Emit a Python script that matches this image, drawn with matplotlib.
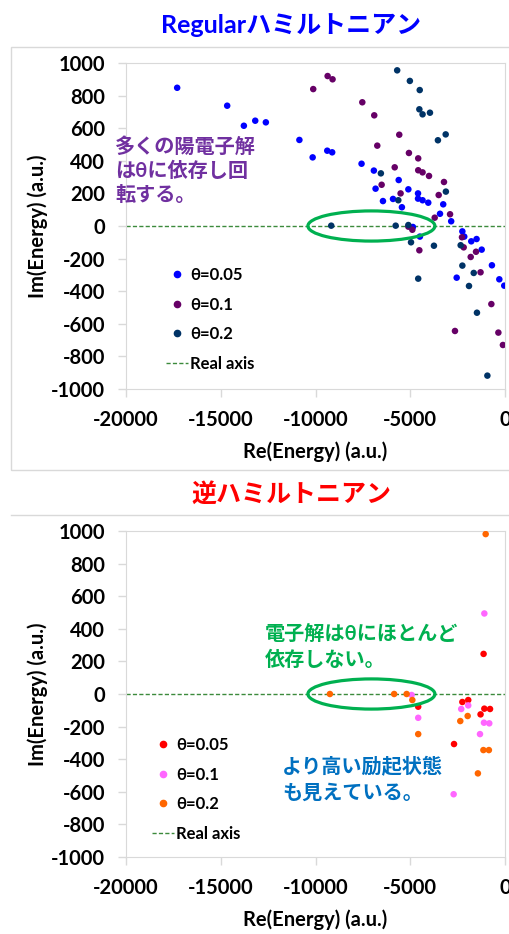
import numpy as np
import matplotlib.pyplot as plt
from matplotlib.patches import Ellipse, Rectangle
from matplotlib.lines import Line2D

plt.rcParams['font.family'] = ['Lato', 'Noto Sans CJK JP', 'DejaVu Sans']
plt.rcParams['axes.unicode_minus'] = False

# ---- data (Re, Im) in a.u. ----
# Regular Hamiltonian
reg_re_005 = [-17300, -14660, -13780, -13180, -12620, -10850, -10150, -9380, -9120, -7570,
              -6920, -5610, -6830, -5100, -4590, -4590, -4350, -4050, -5910, -6440,
              -5440, -3260, -3430, -2840, -4860, -4490, -2250, -2150, -1780, -1500,
              -1230, -690, -2550, -300, -40]
reg_im_005 = [848, 738, 615, 646, 636, 528, 421, 462, 452, 382,
              340, 282, 229, 225, 200, 168, 158, 143, 166, 153,
              115, 133, 75, 29, -6, -65, -33, -65, -94, -80,
              -145, -241, -317, -327, -366]
reg_re_01 = [-10120, -9360, -9100, -7530, -6900, -5580, -6740, -5070, -4580, -5820,
             -4580, -4350, -4010, -3220, -6510, -5510, -3500, -3710, -2900, -5100,
             -4890, -4520, -2270, -2180, -1530, -1810, -1290, -720, -2640, -350, -110]
reg_im_01 = [840, 920, 900, 759, 679, 560, 493, 448, 415, 360,
             342, 329, 307, 270, 253, 200, 190, 51, 72, -4,
             -23, -149, -69, -131, -158, -190, -284, -479, -644, -654, -730]
reg_re_02 = [-5690, -5020, -4500, -4520, -4350, -3960, -3130, -3540, -6550, -3120,
             -5630, -9170, -5770, -5100, -4960, -3750, -2340, -2250, -1650, -1900,
             -4580, -1480, -930]
reg_im_02 = [955, 890, 834, 716, 685, 695, 562, 526, 323, 211,
             158, 2, 2, 6, -100, -121, -118, -243, -288, -368,
             -323, -532, -918]

# Inverse Hamiltonian
inv_re_005 = [-1130, -4580, -2250, -1940, -1290, -1090, -790, -2690]
inv_im_005 = [246, -78, -49, -37, -125, -90, -92, -307]
inv_re_01 = [-1090, -4930, -4580, -2310, -1940, -1110, -830, -1320, -2710]
inv_im_01 = [494, -6, -146, -92, -70, -176, -180, -246, -615]
inv_re_02 = [-1020, -9240, -5850, -5190, -4890, -4580, -2360, -1970, -1140, -850, -1430]
inv_im_02 = [981, 0, 0, 0, -37, -246, -166, -135, -344, -344, -487]

labels = ['θ=0.05', 'θ=0.1', 'θ=0.2']
reg_colors = ['#0000FF', '#660066', '#003366']
inv_colors = ['#FF0000', '#FF66FF', '#FF6600']
xticks = [-20000, -15000, -10000, -5000, 0]
yticks = list(range(-1000, 1001, 200))

W, H = 509, 934
fig = plt.figure(figsize=(W / 100, H / 100), dpi=100)

# outer chart frames
fig.patches.append(Rectangle((11 / W, 1 - 470 / H), 1.1, 423 / H, transform=fig.transFigure,
                             fill=False, edgecolor='#D9D9D9', lw=1))
fig.add_artist(Line2D([11 / W, 1], [1 - 515 / H, 1 - 515 / H], color='#D9D9D9', lw=1))

grey = '#D9D9D9'


def panel(rect, series, colors, leg_anchor):
    ax = fig.add_axes(rect)
    handles = []
    for (xs, ys), c, lab in zip(series, colors, labels):
        ax.scatter(xs, ys, s=22, color=c, edgecolors='none', zorder=3)
        handles.append(Line2D([], [], ls='none', marker='o', ms=4.5, color=c, label=lab))
    ax.plot([-20000, 0], [0, 0], ls=(0, (3.0, 1.6)), color='#3C8A3C', lw=1.0, zorder=2)
    handles.append(Line2D([], [], ls=(0, (3.0, 1.6)), color='#3C8A3C', lw=1.0, label='Real axis'))
    ax.add_patch(Ellipse((-7050, 0), 6700, 185, fill=False, edgecolor='#00B050', lw=2.3, zorder=4))
    ax.set_xlim(-20000, 0)
    ax.set_ylim(-1000, 1000)
    ax.set_xticks(xticks)
    ax.set_yticks(yticks)
    for sp in ax.spines.values():
        sp.set_color(grey)
    ax.tick_params(direction='out', length=6, width=1, color=grey, pad=9,
                   labelsize=14.5)
    for t in ax.get_xticklabels() + ax.get_yticklabels():
        t.set_fontweight('bold')
    ax.set_xlabel('Re(Energy) (a.u.)', fontsize=14.5, fontweight='bold', labelpad=8)
    ax.set_ylabel('Im(Energy) (a.u.)', fontsize=14.5, fontweight='bold', labelpad=2)
    ax.legend(handles=handles, loc='upper left', bbox_to_anchor=leg_anchor,
              bbox_transform=fig.transFigure, frameon=False, borderpad=0,
              borderaxespad=0, handlelength=1.3, handletextpad=0.15,
              labelspacing=0.82, prop={'size': 12, 'weight': 'bold'})
    return ax


ax1 = panel([126 / W, 1 - 389 / H, 379 / W, 326 / H],
            [(reg_re_005, reg_im_005), (reg_re_01, reg_im_01), (reg_re_02, reg_im_02)],
            reg_colors, (166 / W, 1 - 267 / H))
ax2 = panel([126 / W, 1 - 857 / H, 379 / W, 326 / H],
            [(inv_re_005, inv_im_005), (inv_re_01, inv_im_01), (inv_re_02, inv_im_02)],
            inv_colors, (152 / W, 1 - 737 / H))

fig.text(291 / W, 1 - 25 / H, 'Regularハミルトニアン', color='#0000FF', fontsize=18,
         fontweight='bold', ha='center', va='center')
fig.text(291 / W, 1 - 494 / H, '逆ハミルトニアン', color='#FF0000', fontsize=18,
         fontweight='bold', ha='center', va='center')

fig.text(115 / W, 1 - 137 / H, '多くの陽電子解\nはθに依存し回\n転する。', color='#7030A0',
         fontsize=14.5, fontweight='bold', ha='left', va='top', linespacing=1.25)
fig.text(265 / W, 1 - 624 / H, '電子解はθにほとんど\n依存しない。', color='#00B050',
         fontsize=14.5, fontweight='bold', ha='left', va='top', linespacing=1.35)
fig.text(282 / W, 1 - 757 / H, 'より高い励起状態\nも見えている。', color='#0070C0',
         fontsize=14.5, fontweight='bold', ha='left', va='top', linespacing=1.35)

fig.savefig('out.png', dpi=100)
